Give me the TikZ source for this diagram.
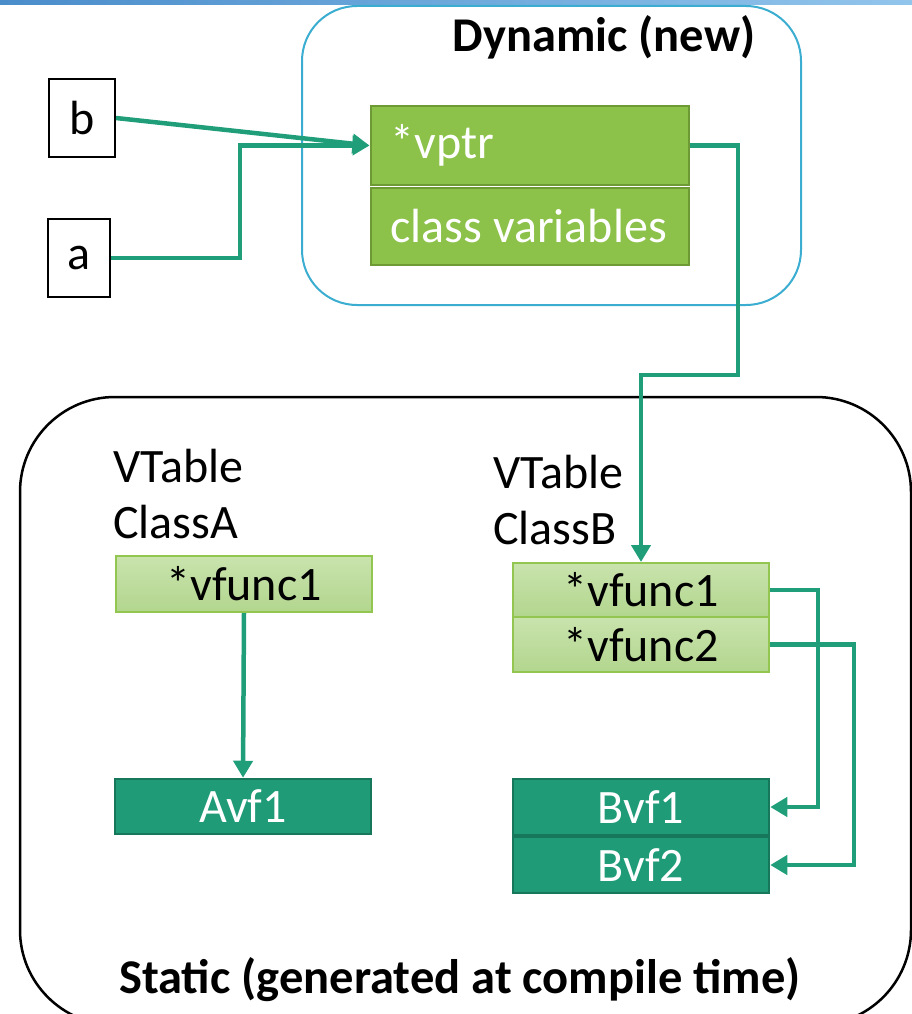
\documentclass[tikz,border=0pt]{standalone}
\usepackage{fontspec}
\setmainfont{Carlito}
\usetikzlibrary{arrows.meta}

\definecolor{linkteal}{HTML}{1F9E79}
\definecolor{fnteal}{HTML}{1F9B78}
\definecolor{fnedge}{HTML}{17775B}
\definecolor{objgreen}{HTML}{8CC14A}
\definecolor{objedge}{HTML}{6E9A35}
\definecolor{rowtop}{HTML}{C9E3AD}
\definecolor{rowbot}{HTML}{B2D68E}
\definecolor{rowedge}{HTML}{92C650}
\definecolor{dynedge}{HTML}{3AADD0}
\definecolor{barleft}{HTML}{4A8DCB}
\definecolor{barright}{HTML}{92C5EC}

\newcommand{\rowtext}[1]{\makebox[278pt][l]{#1}}

\begin{document}
\begin{tikzpicture}[x=1pt,y=-1pt,
  every node/.style={font=\fontsize{48}{57}\selectfont, inner sep=0pt},
  varbox/.style={draw=black, line width=2pt, fill=white,
    minimum width=64pt, minimum height=78pt},
  objrow/.style={draw=objedge, line width=2pt, fill=objgreen, text=white,
    inner xsep=20pt, minimum width=318pt, minimum height=78pt},
  vtrow/.style={draw=rowedge, line width=2pt, top color=rowtop, bottom color=rowbot,
    text=black, minimum width=256pt, minimum height=55pt},
  fnbox/.style={draw=fnedge, line width=2.5pt, fill=fnteal, text=white,
    minimum width=256pt, minimum height=56pt},
  heading/.style={font=\fontsize{48.5}{57}\selectfont\bfseries, anchor=base},
  plain/.style={anchor=base west},
  link/.style={draw=linkteal, line width=4.5pt,
    -{Triangle[length=17pt,width=19pt]}}
]
\useasboundingbox (0,0) rectangle (912,1014);

% header strip
\shade[left color=barleft, right color=barright] (0,0) rectangle (912,5);

% region frames
\draw[dynedge, line width=2pt, rounded corners=55pt] (302,6) rectangle (801,305);
\draw[black, line width=2.5pt, rounded corners=95pt] (20,397) rectangle (911,1025);

\node[heading] (dyntitle) at (604,52) {Dynamic (new)};
\node[heading] (stattitle) at (460,993) {Static (generated at compile time)};

% references
\node[varbox, minimum width=66pt] (b) at (82,118) {b};
\node[varbox, minimum width=62pt] (a) at (79,258) {a};

% object on the heap
\node[objrow] (vptr) at (529.5,145.5) {\rowtext{*vptr}};
\node[objrow, minimum height=77pt] (vars) at (529.5,226.5) {\rowtext{class variables}};

% vtable of ClassA
\node[plain] (vtA) at (113,482) {VTable};
\node[plain] (clA) at (113,538) {ClassA};
\node[vtrow, minimum height=56pt] (vfa) at (244,584) {*vfunc1};
\node[fnbox, minimum height=55pt] (avf) at (243,806.5) {Avf1};

% vtable of ClassB
\node[plain] (vtB) at (493,488) {VTable};
\node[plain] (clB) at (493,544) {ClassB};
\node[vtrow, minimum height=54pt] (vfb1) at (641,590) {*vfunc1};
\node[vtrow] (vfb2) at (641,644.5) {*vfunc2};
\node[fnbox] (bvf1) at (641,807) {Bvf1};
\node[fnbox] (bvf2) at (641,865) {Bvf2};

% pointers
\coordinate (aturn) at (240,258);
\coordinate (vdown) at (738,375);
\draw[link] (b.east) -- (vptr.west);
\draw[link] (a.east) -- (aturn) |- (vptr.west);
\draw[link] (vptr.east) -| (vdown) -| (vfb1.north);
\draw[link] (vfa.south) -- (avf.north);
\draw[link] (vfb1.east) -- ++(48,0) |- (bvf1.east);
\draw[link] (vfb2.east) -- ++(84,0) |- (bvf2.east);
\end{tikzpicture}
\end{document}
